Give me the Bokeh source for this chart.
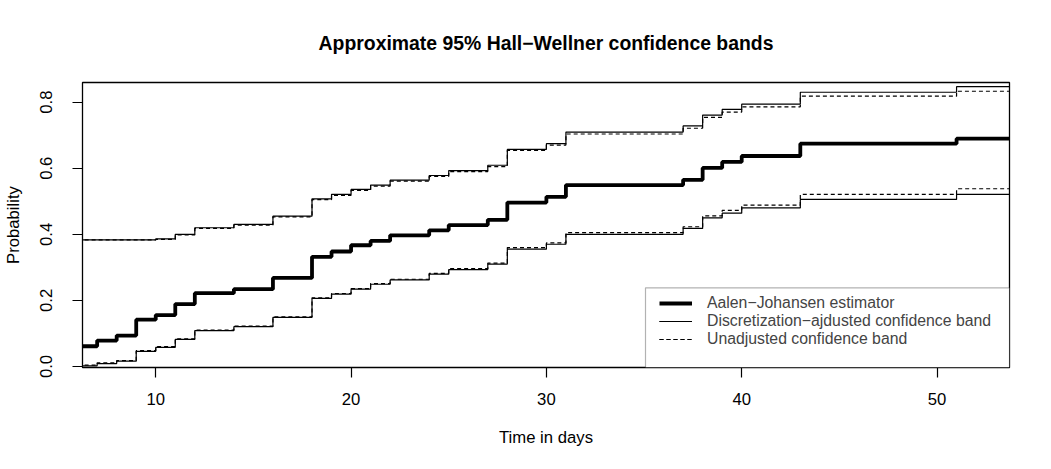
from bokeh.plotting import figure
from bokeh.models import Range1d, FixedTicker, Legend, LegendItem, PrintfTickFormatter, BoxAnnotation
from bokeh.embed import file_html
from bokeh.resources import INLINE

# ---- data ----
event_times = [6, 7, 8, 9, 10, 11, 12, 14, 16, 18, 19, 20, 21, 22, 24, 25, 27, 28,
               30, 31, 37, 38, 39, 40, 43, 51]
end_of_followup = 54

aalen_johansen = [0.0613, 0.0784, 0.0935, 0.1417, 0.1558, 0.189, 0.222, 0.234, 0.268,
                  0.332, 0.348, 0.367, 0.380, 0.397, 0.412, 0.428, 0.444, 0.496,
                  0.5136, 0.549, 0.565, 0.601, 0.619, 0.637, 0.6745, 0.6896]

upper_adjusted = [0.383, 0.383, 0.383, 0.383, 0.386, 0.400, 0.420, 0.430, 0.455,
                  0.5075, 0.521, 0.536, 0.549, 0.564, 0.578, 0.593, 0.609, 0.657,
                  0.6745, 0.7096, 0.728, 0.761, 0.778, 0.794, 0.830, 0.847]
lower_adjusted = [0.002, 0.009, 0.016, 0.046, 0.058, 0.082, 0.1086, 0.1206, 0.1487,
                  0.206, 0.219, 0.234, 0.249, 0.262, 0.2795, 0.2935, 0.310, 0.355,
                  0.370, 0.400, 0.418, 0.450, 0.464, 0.480, 0.5057, 0.521]

upper_unadjusted = [0.383, 0.383, 0.383, 0.383, 0.385, 0.398, 0.418, 0.428, 0.453,
                    0.505, 0.518, 0.533, 0.546, 0.561, 0.575, 0.590, 0.605, 0.654,
                    0.670, 0.7036, 0.721, 0.754, 0.770, 0.786, 0.818, 0.833]
lower_unadjusted = [0.004, 0.011, 0.018, 0.048, 0.060, 0.084, 0.110, 0.122, 0.150,
                    0.208, 0.221, 0.236, 0.251, 0.264, 0.282, 0.296, 0.313, 0.360,
                    0.374, 0.405, 0.423, 0.456, 0.4725, 0.4885, 0.521, 0.538]

x_ticks = [10, 20, 30, 40, 50]
y_ticks = [0.0, 0.2, 0.4, 0.6, 0.8]

title_text = "Approximate 95% Hall\u2212Wellner confidence bands"
x_label = "Time in days"
y_label = "Probability"
legend_labels = ["Aalen\u2212Johansen estimator",
                 "Discretization\u2212ajdusted confidence band",
                 "Unadjusted confidence band"]

FONT = "Liberation Sans"
TXT = "16.7px"
LEG_TXT = "15.8px"

X0, X1 = 6.25, 53.71
Y0, Y1 = -0.003, 0.8595
FRAME_W, FRAME_H = 927, 286

p = figure(width=1043, height=461, output_backend="svg", toolbar_location=None,
           x_range=Range1d(X0, X1), y_range=Range1d(Y0, Y1),
           min_border_left=82, min_border_right=34, min_border_top=81,
           min_border_bottom=94)
p.grid.visible = False
p.outline_line_color = "black"
p.outline_line_width = 1.3
p.background_fill_color = "white"
p.border_fill_color = "white"

p.title.text = title_text
p.title.align = "center"
p.title.text_font = FONT
p.title.text_font_size = "19.4px"
p.title.text_font_style = "bold"
p.title.text_color = "black"
p.title.standoff = 58

xs = event_times + [end_of_followup]

def ext(v):
    return v + [v[-1]]

r_aj = p.step(xs, ext(aalen_johansen), mode="after", line_color="black", line_width=3.8)
r_ua = p.step(xs, ext(upper_adjusted), mode="after", line_color="black", line_width=1.2)
r_la = p.step(xs, ext(lower_adjusted), mode="after", line_color="black", line_width=1.2)
r_uu = p.step(xs, ext(upper_unadjusted), mode="after", line_color="black", line_width=1.2,
              line_dash="4 3")
r_lu = p.step(xs, ext(lower_unadjusted), mode="after", line_color="black", line_width=1.2,
              line_dash="4 3")

for ax in (p.xaxis[0], p.yaxis[0]):
    ax.major_tick_out = 10
    ax.major_tick_in = 0
    ax.minor_tick_line_color = None
    ax.axis_line_color = "black"
    ax.major_tick_line_color = "black"
    ax.major_tick_line_width = 1.2
    ax.major_label_text_font = FONT
    ax.major_label_text_font_size = TXT
    ax.major_label_text_color = "black"
    ax.axis_label_text_font = FONT
    ax.axis_label_text_font_size = TXT
    ax.axis_label_text_font_style = "normal"
    ax.axis_label_text_color = "black"

p.xaxis.ticker = FixedTicker(ticks=x_ticks)
p.yaxis.ticker = FixedTicker(ticks=y_ticks)
p.yaxis.formatter = PrintfTickFormatter(format="%.1f")
p.yaxis.major_label_orientation = "vertical"
p.xaxis.axis_label = x_label
p.yaxis.axis_label = y_label
p.xaxis.major_label_standoff = 15
p.yaxis.major_label_standoff = 20
p.xaxis.axis_label_standoff = 20
p.yaxis.axis_label_standoff = 15

# legend frame (pixel geometry converted to data units of the frame)
box_left_px, box_top_px = 563, 206   # from frame left / frame top
box = BoxAnnotation(left=X0 + box_left_px * (X1 - X0) / FRAME_W, right=X1,
                    top=Y1 - box_top_px * (Y1 - Y0) / FRAME_H, bottom=Y0,
                    fill_color="white", fill_alpha=1.0,
                    line_color="black", line_width=1.2, level="annotation")
p.add_layout(box)

# one legend entry per row, so rows can sit as tightly as in the reference
entries = [(legend_labels[0], [r_aj]),
           (legend_labels[1], [r_ua, r_la]),
           (legend_labels[2], [r_uu, r_lu])]
row_offsets = [55, 37, 19]   # legend bottom above frame bottom, px
for (lab, rends), off in zip(entries, row_offsets):
    lg = Legend(items=[LegendItem(label=lab, renderers=rends)],
                location=(577, off), margin=0, padding=0, spacing=0,
                label_text_font=FONT, label_text_font_size=LEG_TXT, label_standoff=15,
                glyph_width=33, glyph_height=14, label_height=14,
                border_line_alpha=0, background_fill_alpha=0)
    p.add_layout(lg, "center")

open("out.html", "w").write(file_html(p, INLINE))
